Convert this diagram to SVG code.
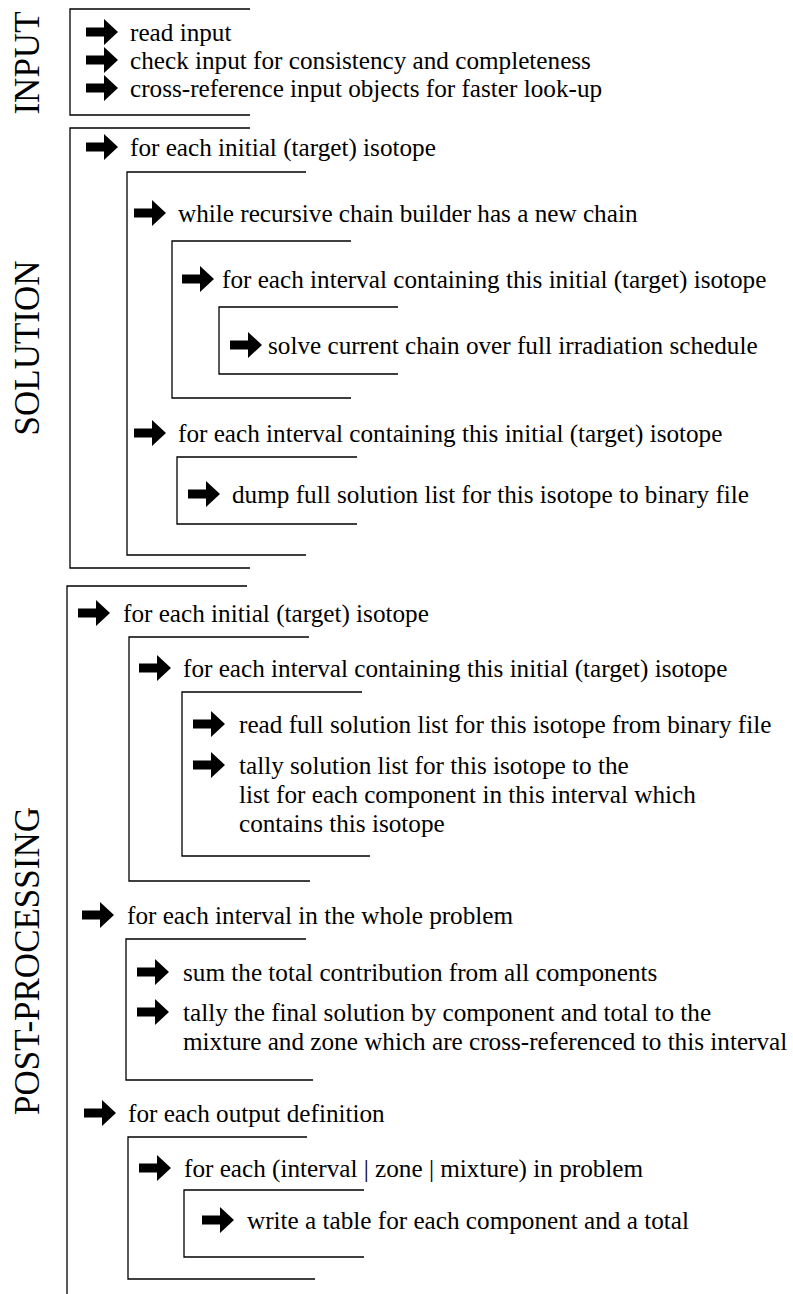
<svg xmlns="http://www.w3.org/2000/svg" xmlns:xlink="http://www.w3.org/1999/xlink" width="793" height="1294" viewBox="0 0 793 1294">
  <style>
    .bk { fill: none; stroke: #000; stroke-width: 1.3; }
    .step { font-family: "Liberation Serif", "Times New Roman", serif; font-size: 25.2px; fill: #000; }
    .lab { font-family: "Liberation Serif", "Times New Roman", serif; font-size: 35px; fill: #000; text-anchor: middle; }
  </style>
  <defs>
    <!-- block arrow, origin at left end of the shaft, vertically centred -->
    <path id="arr" d="M0,-4.5 H18 V-13 L32,0 L18,13 V4.5 H0 Z" fill="#000"/>
  </defs>
  <rect width="793" height="1294" fill="#fff"/>

  <!-- INPUT phase -->
  <g id="input">
    <path class="bk" d="M250,9 H70 V115 H250"/>
    <text class="lab" transform="translate(39,63) rotate(-90)">INPUT</text>
    <use xlink:href="#arr" x="86" y="32"/>
    <text class="step" x="130" y="40.5">read input</text>
    <use xlink:href="#arr" x="86" y="60"/>
    <text class="step" x="130" y="68.5">check input for consistency and completeness</text>
    <use xlink:href="#arr" x="86" y="88"/>
    <text class="step" x="130" y="96.5">cross-reference input objects for faster look-up</text>
  </g>

  <!-- SOLUTION phase -->
  <g id="solution">
    <path class="bk" d="M250,128 H70 V568 H250"/>
    <text class="lab" transform="translate(39,348) rotate(-90)">SOLUTION</text>
    <use xlink:href="#arr" x="86" y="147"/>
    <text class="step" x="130" y="156">for each initial (target) isotope</text>
    <g id="sol-chain">
      <path class="bk" d="M306,172 H127 V555 H306"/>
      <use xlink:href="#arr" x="134" y="213"/>
      <text class="step" x="178" y="222">while recursive chain builder has a new chain</text>
      <g id="sol-interval">
        <path class="bk" d="M351,241 H172 V398 H351"/>
        <use xlink:href="#arr" x="182" y="279"/>
        <text class="step" x="222" y="288">for each interval containing this initial (target) isotope</text>
        <g id="sol-solve">
          <path class="bk" d="M398,307 H219 V374 H398"/>
          <use xlink:href="#arr" x="230" y="345"/>
          <text class="step" x="268" y="354">solve current chain over full irradiation schedule</text>
        </g>
      </g>
      <use xlink:href="#arr" x="134" y="433"/>
      <text class="step" x="178" y="442">for each interval containing this initial (target) isotope</text>
      <g id="sol-dump">
        <path class="bk" d="M357,457 H177 V524 H357"/>
        <use xlink:href="#arr" x="188" y="494"/>
        <text class="step" x="232" y="503">dump full solution list for this isotope to binary file</text>
      </g>
    </g>
  </g>

  <!-- POST-PROCESSING phase -->
  <g id="postprocessing">
    <path class="bk" d="M247,586 H67 V1294"/>
    <text class="lab" transform="translate(39,961) rotate(-90)">POST-PROCESSING</text>
    <use xlink:href="#arr" x="78" y="613"/>
    <text class="step" x="123" y="622">for each initial (target) isotope</text>
    <g id="pp-interval">
      <path class="bk" d="M309,637 H129 V881 H310"/>
      <use xlink:href="#arr" x="139" y="668"/>
      <text class="step" x="183" y="677">for each interval containing this initial (target) isotope</text>
      <g id="pp-tally">
        <path class="bk" d="M362,692 H182 V856 H370"/>
        <use xlink:href="#arr" x="193" y="724"/>
        <text class="step" x="239" y="733">read full solution list for this isotope from binary file</text>
        <use xlink:href="#arr" x="193" y="765"/>
        <text class="step" x="239" y="774">tally solution list for this isotope to the</text>
        <text class="step" x="239" y="803">list for each component in this interval which</text>
        <text class="step" x="239" y="832">contains this isotope</text>
      </g>
    </g>
    <use xlink:href="#arr" x="82" y="915"/>
    <text class="step" x="127" y="924">for each interval in the whole problem</text>
    <g id="pp-sum">
      <path class="bk" d="M306,939 H126 V1080 H313"/>
      <use xlink:href="#arr" x="137" y="972"/>
      <text class="step" x="183" y="981">sum the total contribution from all components</text>
      <use xlink:href="#arr" x="137" y="1012"/>
      <text class="step" x="183" y="1021">tally the final solution by component and total to the</text>
      <text class="step" x="183" y="1050">mixture and zone which are cross-referenced to this interval</text>
    </g>
    <use xlink:href="#arr" x="84" y="1113"/>
    <text class="step" x="128" y="1122">for each output definition</text>
    <g id="pp-output">
      <path class="bk" d="M307,1137 H128 V1279 H315"/>
      <use xlink:href="#arr" x="139" y="1168"/>
      <text class="step" x="184" y="1177">for each (interval | zone | mixture) in problem</text>
      <g id="pp-table">
        <path class="bk" d="M364,1190 H184 V1257 H364"/>
        <use xlink:href="#arr" x="202" y="1220"/>
        <text class="step" x="247" y="1229">write a table for each component and a total</text>
      </g>
    </g>
  </g>
</svg>
